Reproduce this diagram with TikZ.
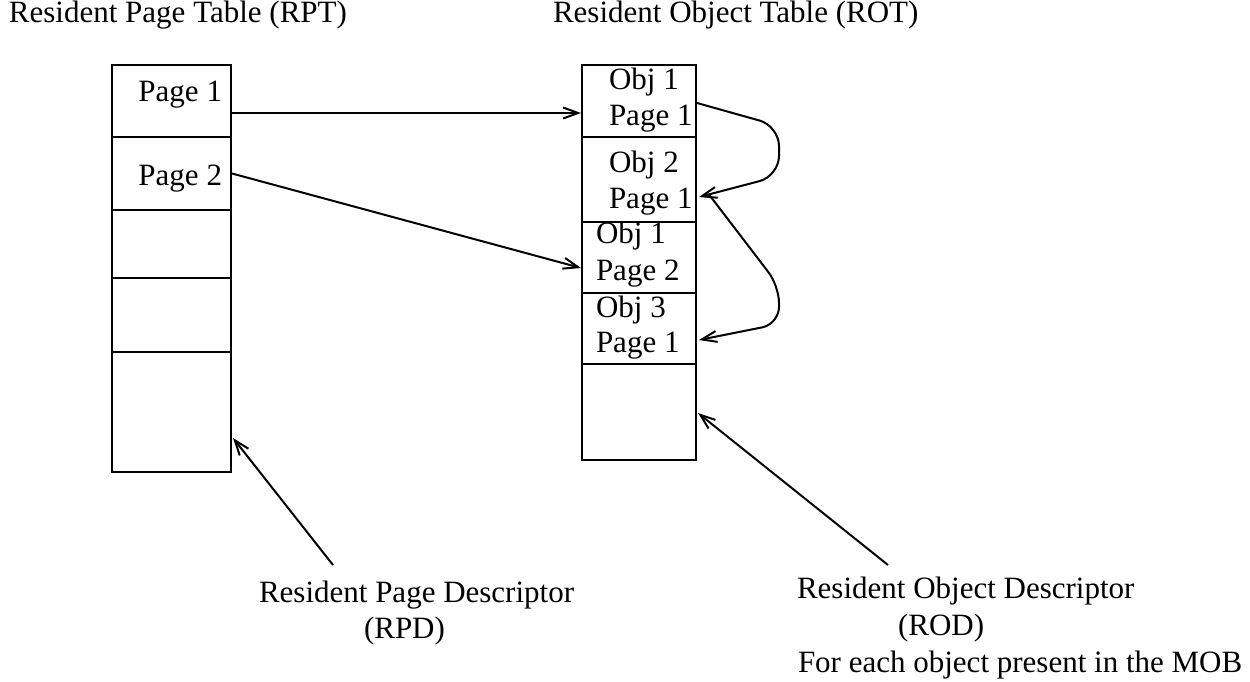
\documentclass[tikz,border=0pt]{standalone}
\usepackage{fontspec}
\setmainfont{Liberation Serif}
\usetikzlibrary{arrows.meta,calc}
\begin{document}
\begin{tikzpicture}[x=1pt,y=-1pt,
  line width=2pt,
  cellL/.style={draw, inner sep=0pt, minimum width=119pt},
  cellR/.style={draw, inner sep=0pt, minimum width=114pt},
  txt/.style={inner sep=0pt, font=\fontsize{31}{36}\selectfont},
  arr/.style={-{Straight Barb[length=15pt,width=11pt]}, line width=2pt}]

\useasboundingbox (0,0) rectangle (1250,682);
\fill[white] (0,0) rectangle (1250,682);

% titles
\node[txt, anchor=base west] (rpt) at (8,23) {Resident Page Table (RPT)};
\node[txt, anchor=base west] (rot) at (552,23) {Resident Object Table (ROT)};

% resident page table
\node[cellL, minimum height=72pt]  (l1) at (171.5,101)   {};
\node[cellL, minimum height=73pt]  (l2) at (171.5,173.5) {};
\node[cellL, minimum height=68pt]  (l3) at (171.5,244)   {};
\node[cellL, minimum height=74pt]  (l4) at (171.5,315)   {};
\node[cellL, minimum height=120pt] (l5) at (171.5,412)   {};
\node[txt, anchor=base east] (l1t) at (223,102) {Page 1};
\node[txt, anchor=base east] (l2t) at (223,185) {Page 2};

% resident object table
\node[cellR, minimum height=72pt] (r1) at (639,101)   {};
\node[cellR, minimum height=85pt] (r2) at (639,179.5) {};
\node[cellR, minimum height=71pt] (r3) at (639,257.5) {};
\node[cellR, minimum height=71pt] (r4) at (639,328.5) {};
\node[cellR, minimum height=96pt] (r5) at (639,412)   {};
\node[txt, anchor=base west] (r1a) at (608,90)  {Obj 1};
\node[txt, anchor=base west] (r1b) at (608,125) {Page 1};
\node[txt, anchor=base west] (r2a) at (608,172) {Obj 2};
\node[txt, anchor=base west] (r2b) at (608,208) {Page 1};
\node[txt, anchor=base west] (r3a) at (595,243) {Obj 1};
\node[txt, anchor=base west] (r3b) at (595,280) {Page 2};
\node[txt, anchor=base west] (r4a) at (595,317) {Obj 3};
\node[txt, anchor=base west] (r4b) at (595,352) {Page 1};

% descriptor labels
\node[txt, anchor=base west] (rpd1) at (258,602) {Resident Page Descriptor};
\node[txt, anchor=base west] (rpd2) at (363,638) {(RPD)};
\node[txt, anchor=base west] (rod1) at (796,598) {Resident Object Descriptor};
\node[txt, anchor=base west] (rod2) at (897,635) {(ROD)};
\node[txt, anchor=base west] (rod3) at (797,672) {For each object present in the MOB};

% page table entries point to their object descriptors
\draw[arr] ($(l1.east)+(0,12)$) -- ($(r1.west)+(0,12)$);
\draw[arr] (l2.east) -- ($(r3.west)+(0,10.5)$);

% chain of descriptors belonging to the same page
\draw[arr, rounded corners=20pt] ($(r1.east)+(0,2)$) -- (779,126) -- (779,176) -- ($(r2.east)+(2,17.5)$);
\draw[arr, rounded corners=17pt] ($(r2.east)+(12,15)$) -- (779,286) -- (779,324) -- ($(r4.east)+(2,11.5)$);

% descriptor callouts
\coordinate (rpdtail) at (333,565);
\coordinate (rodtail) at (888,565);
\draw[arr] (rpdtail) -- ($(l5.east)+(1,26)$);
\draw[arr] (rodtail) -- ($(r5.east)+(1,1)$);
\end{tikzpicture}
\end{document}
